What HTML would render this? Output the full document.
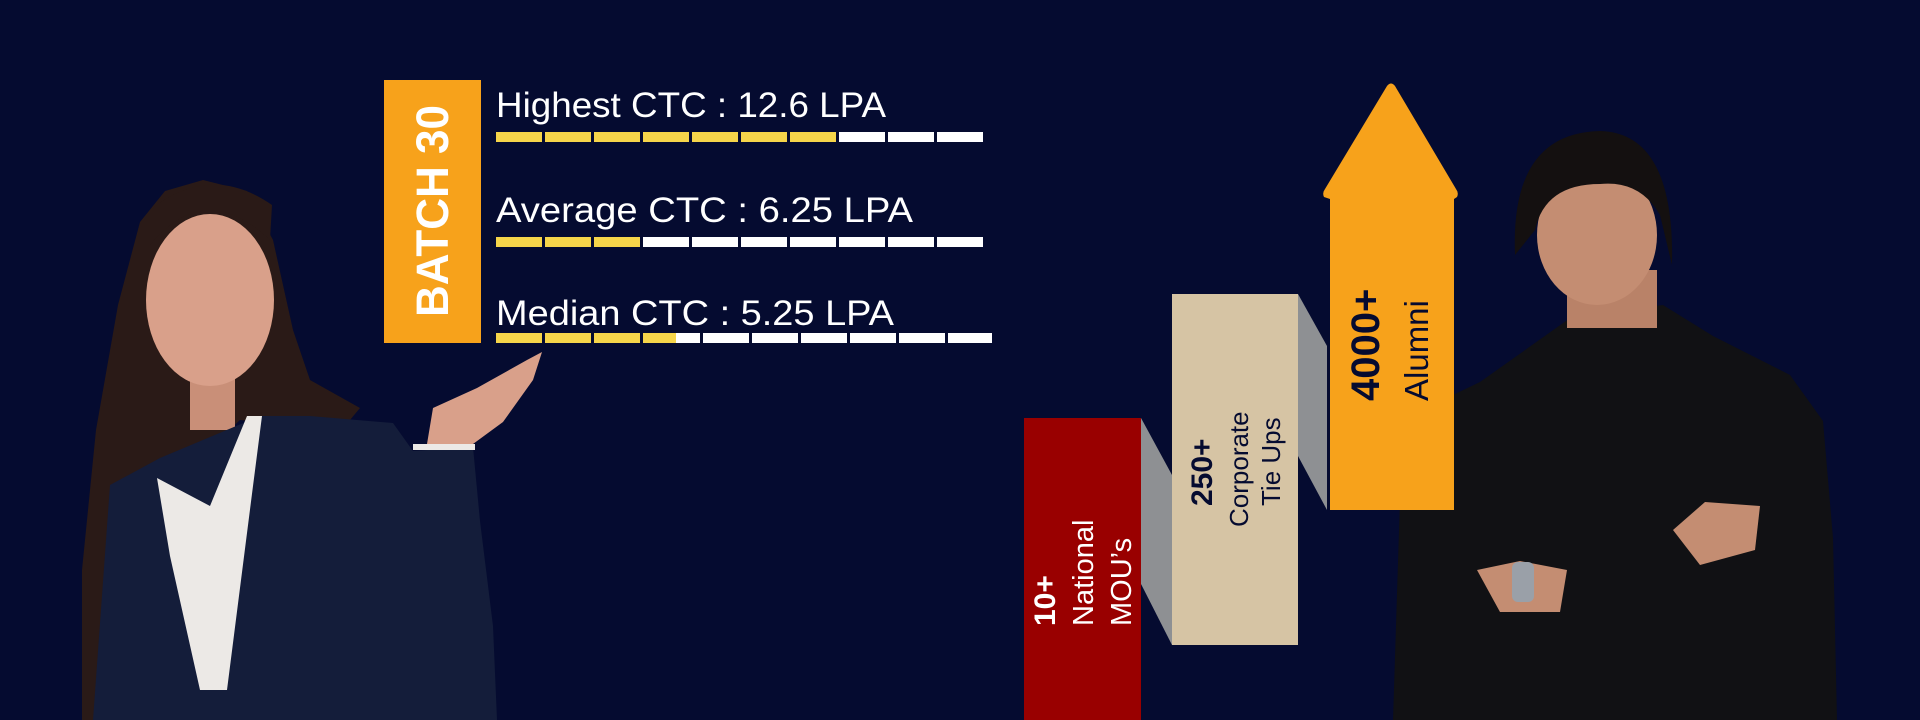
<!DOCTYPE html>
<html><head><meta charset="utf-8"><style>
html,body{margin:0;padding:0;background:#050b30;}
svg{display:block}
text{font-family:"Liberation Sans",sans-serif}
</style></head><body>
<svg width="1920" height="720" viewBox="0 0 1920 720" xmlns="http://www.w3.org/2000/svg">
<rect width="1920" height="720" fill="#050b30"/>

<!-- Woman -->
<polygon points="203,180 247,191 273,240 293,330 310,380 360,408 340,432 240,420 165,490 120,570 110,720 82,720 82,570 96,430 118,305 140,222 165,191" fill="#2a1a17"/>
<rect x="190" y="360" width="45" height="70" fill="#c98f78"/>
<ellipse cx="210" cy="300" rx="64" ry="86" fill="#d9a08a"/>
<path d="M150,245 Q205,178 270,240 L272,205 Q210,162 150,210 Z" fill="#2a1a17"/>
<polygon points="93,720 110,485 160,458 260,416 310,416 393,423 413,451 473,447 480,521 493,626 497,720" fill="#141d3a"/>
<polygon points="157,478 210,506 247,416 262,416 253,486 227,690 200,690 170,556" fill="#ece9e6"/>
<polygon points="427,444 433,408 477,388 527,360 542,352 533,380 503,422 473,444" fill="#d9a08a"/>
<rect x="413" y="444" width="62" height="6" fill="#ece9e6"/>

<!-- Man -->
<polygon points="1393,720 1400,499 1430,406 1480,382 1573,316 1663,305 1713,336 1790,375 1823,421 1833,538 1837,720" fill="#111114"/>
<rect x="1567" y="270" width="90" height="58" fill="#b98268"/>
<ellipse cx="1597" cy="235" rx="60" ry="70" fill="#c48d72"/>
<path d="M1515,255 Q1510,133 1600,131 Q1675,133 1672,265 L1660,215 Q1640,180 1600,184 Q1545,184 1535,230 Z" fill="#141010"/>
<polygon points="1673,530 1705,502 1760,506 1755,550 1700,565" fill="#c48d72"/>
<polygon points="1477,570 1520,561 1567,570 1560,612 1500,612" fill="#c48d72"/>
<rect x="1512" y="562" width="22" height="40" rx="6" fill="#9aa0a8"/>

<!-- BATCH 30 -->
<rect x="384" y="80" width="97" height="263" fill="#f7a21b"/>
<text transform="translate(448,317) rotate(-90)" font-size="45" font-weight="bold" fill="#fff" textLength="212" lengthAdjust="spacingAndGlyphs">BATCH 30</text>

<text x="496" y="117" font-size="35" fill="#fff" textLength="390" lengthAdjust="spacingAndGlyphs">Highest CTC : 12.6 LPA</text>
<text x="496" y="222" font-size="35" fill="#fff" textLength="417" lengthAdjust="spacingAndGlyphs">Average CTC : 6.25 LPA</text>
<text x="496" y="325" font-size="35" fill="#fff" textLength="398" lengthAdjust="spacingAndGlyphs">Median CTC : 5.25 LPA</text>

<g fill="#f6d54a">
<rect x="496" y="132" width="46" height="10"/><rect x="545" y="132" width="46" height="10"/><rect x="594" y="132" width="46" height="10"/><rect x="643" y="132" width="46" height="10"/><rect x="692" y="132" width="46" height="10"/><rect x="741" y="132" width="46" height="10"/><rect x="790" y="132" width="46" height="10"/>
<rect x="496" y="237" width="46" height="10"/><rect x="545" y="237" width="46" height="10"/><rect x="594" y="237" width="46" height="10"/>
<rect x="496" y="333" width="46" height="10"/><rect x="545" y="333" width="46" height="10"/><rect x="594" y="333" width="46" height="10"/><rect x="643" y="333" width="33" height="10"/>
</g>
<g fill="#ffffff">
<rect x="839" y="132" width="46" height="10"/><rect x="888" y="132" width="46" height="10"/><rect x="937" y="132" width="46" height="10"/>
<rect x="643" y="237" width="46" height="10"/><rect x="692" y="237" width="46" height="10"/><rect x="741" y="237" width="46" height="10"/><rect x="790" y="237" width="46" height="10"/><rect x="839" y="237" width="46" height="10"/><rect x="888" y="237" width="46" height="10"/><rect x="937" y="237" width="46" height="10"/>
<rect x="676" y="333" width="24" height="10"/><rect x="703" y="333" width="46" height="10"/><rect x="752" y="333" width="46" height="10"/><rect x="801" y="333" width="46" height="10"/><rect x="850" y="333" width="46" height="10"/><rect x="899" y="333" width="46" height="10"/><rect x="948" y="333" width="44" height="10"/>
</g>

<!-- Steps -->
<polygon points="1141,418 1172,475 1172,645 1141,584" fill="#8e9093"/>
<polygon points="1298,294 1327,346 1327,510 1298,456" fill="#8e9093"/>
<rect x="1024" y="418" width="117" height="302" fill="#990000"/>
<rect x="1172" y="294" width="126" height="351" fill="#d6c4a4"/>
<path d="M1330,510 L1330,199 L1324,197 Q1322,193 1325,189 L1387,86 Q1391,81 1395,86 L1456,189 Q1459,193 1457,197 L1454,199 L1454,510 Z" fill="#f7a21b"/>

<text transform="translate(1055,626) rotate(-90)" font-size="30" font-weight="bold" fill="#fff">10+</text>
<text transform="translate(1093,626) rotate(-90)" font-size="29" fill="#fff">National</text>
<text transform="translate(1131,626) rotate(-90)" font-size="29" fill="#fff">MOU’s</text>

<text transform="translate(1212,506) rotate(-90)" font-size="30" font-weight="bold" fill="#050b30">250+</text>
<text transform="translate(1248,527) rotate(-90)" font-size="26" fill="#050b30">Corporate</text>
<text transform="translate(1280,506) rotate(-90)" font-size="26" fill="#050b30">Tie Ups</text>

<text transform="translate(1379,401) rotate(-90)" font-size="40" font-weight="bold" fill="#050b30">4000+</text>
<text transform="translate(1428,401) rotate(-90)" font-size="33" fill="#050b30">Alumni</text>
</svg>
</body></html>
